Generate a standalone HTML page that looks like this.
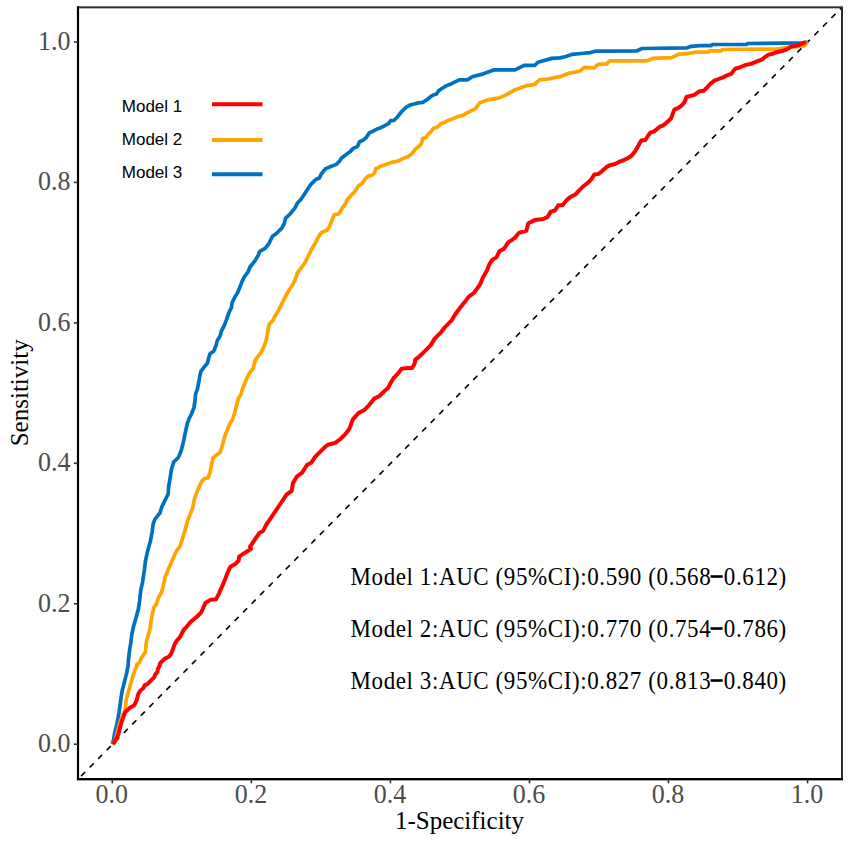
<!DOCTYPE html>
<html><head><meta charset="utf-8"><style>
html,body{margin:0;padding:0;background:#fff;}
svg{display:block;}
.tk{font-family:"Liberation Serif",serif;font-size:26px;fill:#4D4D4D;}
.ti{font-family:"Liberation Serif",serif;font-size:25px;fill:#000;}
.lg{font-family:"Liberation Sans",sans-serif;font-size:17px;fill:#000;}
.au{font-family:"Liberation Serif",serif;font-size:23px;letter-spacing:0.6px;fill:#000;}
.mn{stroke:#000;stroke-width:1.3px;font-size:21px;letter-spacing:2.1px;}
</style></head><body>
<svg width="851" height="844" viewBox="0 0 851 844">
<rect x="0" y="0" width="851" height="844" fill="#fff"/>
<line x1="78.0" y1="779.2" x2="842.0" y2="7.35" stroke="#000" stroke-width="1.6" stroke-dasharray="5.8 6.32" stroke-dashoffset="-4.4" />
<polyline points="112.3,744.2 113.6,739.5 114.6,733.5 116.1,727.4 117.6,720.4 119.1,712.3 120.1,705.3 121.1,697.2 122.1,691.2 123.6,685.1 125.1,679.1 126.7,673.1 128.2,665.0 128.4,660.0 129.5,650.6 130.7,643.5 131.9,634.0 133.7,625.7 136.1,617.4 138.4,609.1 139.6,600.8 140.8,590.1 142.6,581.8 144.4,570.0 145.5,560.6 147.9,549.9 150.3,541.6 152.1,532.1 153.2,523.8 155.0,519.1 159.8,513.2 162.1,506.1 165.7,499.0 168.1,494.2 168.6,487.1 169.8,480.0 171.5,469.0 173.8,461.9 178.6,457.2 181.4,450.0 183.8,440.0 185.5,431.8 187.3,423.5 189.1,418.7 191.5,414.0 193.8,408.1 195.0,400.9 195.6,393.8 197.4,389.1 198.6,383.2 199.8,376.1 200.9,371.3 204.5,366.6 207.5,363.0 208.6,358.3 210.1,353.6 213.7,351.2 216.1,345.3 217.3,340.6 220.2,335.8 221.4,331.1 224.4,325.2 226.7,319.2 229.1,312.1 231.5,307.4 232.1,302.7 235.0,296.7 237.4,293.2 239.8,287.3 242.1,281.3 244.5,276.6 248.1,271.8 250.0,267.0 254.7,261.1 258.3,255.2 259.5,251.6 265.4,248.1 269.0,243.3 272.5,236.2 276.1,233.8 282.0,227.9 284.4,223.2 285.5,218.4 290.3,213.7 295.0,207.8 297.4,203.0 300.9,199.5 310.7,184.6 313.9,181.4 316.0,179.3 319.2,178.2 321.3,174.0 325.6,168.6 330.9,166.5 336.3,164.4 339.5,161.2 341.6,158.0 345.9,154.8 350.1,151.6 353.3,148.4 357.6,146.3 359.7,141.5 362.9,140.4 366.1,137.7 369.3,132.9 373.6,130.8 377.8,128.7 380.0,128.0 384.3,125.9 388.5,123.7 390.7,120.5 393.9,120.5 397.1,117.3 401.3,112.0 405.6,107.7 409.9,105.1 414.1,104.0 418.4,102.9 422.7,102.4 426.9,99.7 430.1,97.1 433.3,94.9 436.5,93.9 438.6,90.7 441.8,88.5 446.1,85.9 451.4,83.7 455.7,81.6 458.9,80.0 460.0,79.8 467.6,79.8 472.2,76.7 481.4,74.4 493.6,69.9 515.0,69.9 524.2,65.3 534.9,65.3 537.9,62.2 551.7,58.4 560.0,57.9 565.9,56.5 571.8,54.4 581.2,53.5 590.6,52.6 595.3,51.2 610.0,51.2 636.4,51.0 642.1,48.5 687.2,47.8 691.4,46.3 700.0,45.7 711.3,45.6 712.3,44.5 746.5,44.5 747.5,43.5 804.0,42.8 807.6,42.0" fill="none" stroke="#0070C0" stroke-width="3.7" stroke-linejoin="round" stroke-linecap="butt"/>
<polyline points="112.3,744.2 114.6,741.5 116.1,737.5 117.6,731.5 119.1,725.4 121.1,719.4 122.6,715.4 124.6,711.3 125.6,707.3 126.1,700.2 127.7,694.2 129.7,687.2 131.7,680.1 134.2,672.0 137.2,665.0 136.7,664.8 139.6,662.4 141.4,657.7 143.2,655.3 145.5,651.8 146.1,643.5 147.9,636.4 149.7,630.4 150.9,622.1 152.1,615.0 153.8,607.9 156.2,604.4 158.6,597.3 161.5,592.5 163.3,585.4 165.1,577.1 168.1,570.0 171.6,561.8 176.4,551.1 179.9,546.4 182.3,539.2 185.8,527.4 187.8,520.0 190.7,513.0 192.6,508.2 194.5,498.8 197.3,491.2 200.2,484.5 202.1,480.8 204.9,478.4 208.2,477.9 210.1,472.2 211.5,464.6 213.0,458.0 216.3,455.2 220.1,452.3 222.0,446.6 223.9,440.0 224.6,436.5 227.0,430.6 229.4,424.6 232.9,418.7 234.7,412.8 236.5,405.7 238.3,398.6 241.2,393.8 242.4,389.1 244.8,383.2 247.2,377.3 250.0,372.5 253.2,368.3 255.2,360.0 261.1,352.4 263.5,347.7 265.8,341.8 267.0,335.8 268.2,328.7 269.4,324.0 272.9,320.4 275.3,315.7 278.9,309.8 281.2,305.0 283.6,300.3 286.0,295.5 289.1,290.0 292.7,284.8 295.0,280.0 297.4,272.9 300.9,268.2 304.5,263.5 308.1,256.4 311.6,249.2 315.2,243.3 317.5,238.6 321.1,232.7 327.0,230.3 329.4,226.7 331.8,220.8 334.1,214.9 338.9,213.7 342.4,207.8 346.0,203.0 346.9,200.0 351.2,195.3 354.4,192.1 356.5,188.9 358.6,185.7 361.8,183.6 365.0,179.3 368.2,176.1 372.5,175.0 374.6,172.9 375.7,168.6 378.9,167.6 380.0,166.4 386.4,164.2 392.8,162.1 398.1,161.0 403.5,158.4 408.8,156.2 412.0,153.6 415.2,149.3 419.5,146.1 421.6,142.9 422.7,138.6 425.9,137.6 428.0,134.4 431.2,131.2 433.3,128.5 437.6,126.9 440.8,123.7 444.0,122.7 448.2,120.5 453.6,118.4 458.9,116.3 463.2,115.2 466.4,113.1 475.3,108.8 479.9,102.7 489.0,99.6 498.2,98.1 505.8,95.1 515.0,89.7 525.7,85.9 534.9,84.4 539.4,79.8 548.6,79.0 554.7,77.5 560.0,76.7 568.8,73.2 579.4,71.4 584.7,67.3 594.1,67.9 598.2,64.4 607.0,63.8 609.4,60.9 646.3,60.9 653.3,58.3 671.7,57.6 678.7,54.1 688.6,53.4 695.7,52.2 700.0,52.1 708.5,51.9 709.5,50.9 721.2,50.9 722.2,49.5 777.6,49.1 788.2,47.4 804.0,45.9 807.6,42.0" fill="none" stroke="#FFA500" stroke-width="3.7" stroke-linejoin="round" stroke-linecap="butt"/>
<polyline points="113.2,744.2 117.1,737.5 118.6,733.5 120.1,727.4 121.1,723.4 122.1,720.4 123.6,716.4 125.1,712.3 127.2,710.3 129.2,708.3 131.7,706.8 134.2,705.3 135.2,703.3 136.7,700.2 137.7,696.2 138.7,693.2 140.8,690.2 143.3,688.2 144.8,685.1 147.3,684.1 149.3,682.1 151.3,680.1 154.3,677.1 155.4,674.1 157.4,672.0 157.9,669.0 159.9,665.0 159.8,663.6 164.5,658.9 169.2,656.5 171.6,652.9 174.0,645.8 176.4,641.1 180.0,637.2 183.6,630.0 185.9,627.7 190.7,621.8 196.6,617.0 201.3,612.3 205.5,602.8 210.8,599.8 216.1,599.2 219.1,593.3 223.2,583.8 225.6,577.9 227.4,573.2 230.4,566.7 235.7,563.7 238.6,560.7 239.2,556.6 242.8,554.2 246.4,551.8 251.1,548.9 250.0,546.8 255.2,539.0 259.8,532.5 263.0,531.2 266.3,524.7 270.8,518.1 276.0,510.3 281.3,502.5 286.5,494.7 291.7,490.8 293.0,483.0 296.9,476.5 302.1,472.6 307.3,464.7 311.2,462.8 315.1,456.9 320.3,451.7 325.5,446.5 328.1,444.6 330.0,444.2 335.2,442.9 340.4,439.0 345.6,433.8 349.5,428.6 352.8,419.4 358.7,412.9 363.9,410.3 369.1,405.1 374.3,398.6 379.5,396.0 384.7,390.8 388.0,388.2 389.9,384.3 393.8,377.8 397.7,373.9 401.6,368.7 408.1,368.0 412.1,368.0 414.7,363.4 415.2,359.9 420.4,355.5 425.6,350.3 430.8,345.1 434.7,338.6 440.0,333.4 445.2,326.8 451.7,320.3 455.6,313.8 459.5,308.6 464.7,302.1 468.6,296.9 473.8,293.0 477.7,287.8 480.3,283.9 482.9,277.4 486.8,270.8 489.4,264.3 492.1,260.0 496.4,257.4 499.6,251.0 503.9,248.9 508.1,242.5 514.5,238.2 518.8,232.9 526.3,230.8 528.4,223.3 534.8,220.1 543.3,219.0 547.6,216.9 550.8,211.6 555.0,210.5 558.2,205.2 562.5,205.2 566.8,199.9 571.0,196.7 575.3,194.5 580.0,189.7 583.0,186.5 587.8,182.9 591.3,179.3 594.3,174.6 598.4,174.0 602.0,171.1 606.7,166.9 610.3,165.1 615.0,164.0 619.7,161.6 624.5,159.8 628.0,158.0 631.6,155.7 634.5,152.1 637.5,147.4 639.9,142.6 641.6,140.3 645.2,140.3 648.2,135.5 650.5,132.6 654.1,131.4 657.0,129.0 660.0,126.6 662.7,125.6 666.9,122.4 671.2,118.2 672.7,113.9 674.3,109.7 678.0,108.1 681.7,105.5 684.4,102.3 686.5,97.0 690.2,96.0 694.4,94.9 699.7,91.2 703.9,90.7 707.1,87.5 710.3,83.8 714.5,80.6 718.7,79.0 723.0,77.4 727.2,75.3 731.4,73.7 733.5,70.6 735.7,68.5 740.0,67.4 740.6,67.0 745.9,64.9 751.2,63.8 756.4,61.7 761.7,59.6 766.0,56.4 768.1,54.9 772.3,53.8 776.5,52.2 780.8,51.2 785.0,50.1 789.2,48.0 791.3,46.4 795.6,45.9 799.8,44.8 803.0,43.2 806.0,42.1" fill="none" stroke="#FF0000" stroke-width="4.0" stroke-linejoin="round" stroke-linecap="butt"/>
<rect x="78.0" y="7.35" width="764.00" height="771.85" fill="none" stroke="#2e2e2e" stroke-width="2"/>
<path d="M78.0,6.35 L78.0,779.2 L843.0,779.2" fill="none" stroke="#000" stroke-width="2.2"/>
<line x1="73.8" y1="744.2" x2="78.0" y2="744.2" stroke="#333" stroke-width="1.6"/>
<line x1="112.3" y1="779.2" x2="112.3" y2="783.4000000000001" stroke="#333" stroke-width="1.6"/>
<text transform="translate(70.5,752.0) scale(1,1.06)" text-anchor="end" class="tk">0.0</text>
<text transform="translate(111.8,802.6) scale(1,1.06)" text-anchor="middle" class="tk">0.0</text>
<line x1="73.8" y1="603.8" x2="78.0" y2="603.8" stroke="#333" stroke-width="1.6"/>
<line x1="251.4" y1="779.2" x2="251.4" y2="783.4000000000001" stroke="#333" stroke-width="1.6"/>
<text transform="translate(70.5,611.6) scale(1,1.06)" text-anchor="end" class="tk">0.2</text>
<text transform="translate(250.9,802.6) scale(1,1.06)" text-anchor="middle" class="tk">0.2</text>
<line x1="73.8" y1="463.3" x2="78.0" y2="463.3" stroke="#333" stroke-width="1.6"/>
<line x1="390.4" y1="779.2" x2="390.4" y2="783.4000000000001" stroke="#333" stroke-width="1.6"/>
<text transform="translate(70.5,471.1) scale(1,1.06)" text-anchor="end" class="tk">0.4</text>
<text transform="translate(389.9,802.6) scale(1,1.06)" text-anchor="middle" class="tk">0.4</text>
<line x1="73.8" y1="322.9" x2="78.0" y2="322.9" stroke="#333" stroke-width="1.6"/>
<line x1="529.5" y1="779.2" x2="529.5" y2="783.4000000000001" stroke="#333" stroke-width="1.6"/>
<text transform="translate(70.5,330.7) scale(1,1.06)" text-anchor="end" class="tk">0.6</text>
<text transform="translate(529.0,802.6) scale(1,1.06)" text-anchor="middle" class="tk">0.6</text>
<line x1="73.8" y1="182.4" x2="78.0" y2="182.4" stroke="#333" stroke-width="1.6"/>
<line x1="668.5" y1="779.2" x2="668.5" y2="783.4000000000001" stroke="#333" stroke-width="1.6"/>
<text transform="translate(70.5,190.2) scale(1,1.06)" text-anchor="end" class="tk">0.8</text>
<text transform="translate(668.0,802.6) scale(1,1.06)" text-anchor="middle" class="tk">0.8</text>
<line x1="73.8" y1="42.0" x2="78.0" y2="42.0" stroke="#333" stroke-width="1.6"/>
<line x1="807.6" y1="779.2" x2="807.6" y2="783.4000000000001" stroke="#333" stroke-width="1.6"/>
<text transform="translate(70.5,49.8) scale(1,1.06)" text-anchor="end" class="tk">1.0</text>
<text transform="translate(807.1,802.6) scale(1,1.06)" text-anchor="middle" class="tk">1.0</text>
<text x="459.5" y="828.8" text-anchor="middle" class="ti">1-Specificity</text>
<text transform="translate(27.7,392.8) rotate(-90)" text-anchor="middle" class="ti">Sensitivity</text>
<text x="121.8" y="112" class="lg">Model 1</text>
<line x1="212" y1="104.2" x2="262.5" y2="104.2" stroke="#FF0000" stroke-width="4"/>
<text x="121.8" y="145.4" class="lg">Model 2</text>
<line x1="212" y1="139.9" x2="262.5" y2="139.9" stroke="#FFA500" stroke-width="4"/>
<text x="121.8" y="177.6" class="lg">Model 3</text>
<line x1="212" y1="174.2" x2="262.5" y2="174.2" stroke="#0070C0" stroke-width="4"/>
<text transform="translate(350.5,584.8) scale(1,1.08)" class="au">Model 1:AUC (95%CI):0.590 (0.568<tspan class="mn" dy="-2.6">–</tspan><tspan dy="2.6">0.612)</tspan></text>
<text transform="translate(350.5,636.7) scale(1,1.08)" class="au">Model 2:AUC (95%CI):0.770 (0.754<tspan class="mn" dy="-2.6">–</tspan><tspan dy="2.6">0.786)</tspan></text>
<text transform="translate(350.5,688.6) scale(1,1.08)" class="au">Model 3:AUC (95%CI):0.827 (0.813<tspan class="mn" dy="-2.6">–</tspan><tspan dy="2.6">0.840)</tspan></text>
</svg>
</body></html>
